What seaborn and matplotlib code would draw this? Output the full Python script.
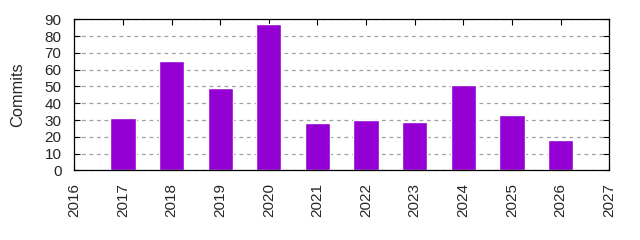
import matplotlib
matplotlib.use("Agg")
import matplotlib.pyplot as plt
import seaborn as sns
import pandas as pd

years = [2017, 2018, 2019, 2020, 2021, 2022, 2023, 2024, 2025, 2026]
commits = [31, 65, 49, 87, 28, 30, 29, 51, 33, 18]
xticks = list(range(2016, 2028))
yticks = list(range(0, 91, 10))

sns.set_style("white")
plt.rcParams['font.family'] = ['Liberation Sans', 'DejaVu Sans']
plt.rcParams['font.size'] = 11

df = pd.DataFrame({"year": years, "commits": commits})

fig = plt.figure(figsize=(6.4, 2.4), dpi=100)
ax = fig.add_axes([0.116, 0.290, 0.836, 0.630])
sns.barplot(data=df, x="year", y="commits", native_scale=True, color="#9400D3",
            saturation=1, width=0.52, ax=ax, zorder=2)

ax.set_xlim(2016, 2027)
ax.set_ylim(0, 90)
ax.set_xticks(xticks)
ax.set_xticklabels([str(t) for t in xticks], rotation=90)
ax.set_yticks(yticks)
ax.set_xlabel("")
ax.set_ylabel("Commits", fontsize=11.8)
ax.yaxis.set_label_coords(-0.092, 0.5)
ax.yaxis.grid(True, color="#a0a0a0", linestyle=(0, (3, 3)), linewidth=0.9, zorder=0)
ax.set_axisbelow(True)
for s in ax.spines.values():
    s.set_color("black")
    s.set_linewidth(0.9)
    s.set_visible(True)
ax.tick_params(axis="both", direction="in", length=4, width=0.8, color="black",
               top=True, right=True, bottom=True, left=True, labelsize=11)
ax.tick_params(axis="y", pad=9.2)
ax.tick_params(axis="x", pad=9.2)

fig.savefig("out.png", dpi=100)
